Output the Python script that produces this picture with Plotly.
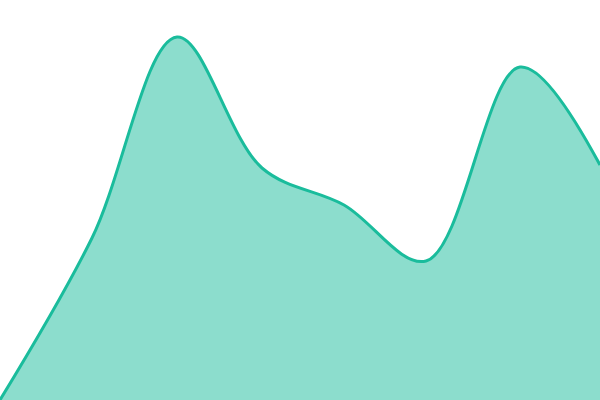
import plotly.graph_objects as go

# Data (pixel space 600x400)
x_values = [0, 92, 177, 262, 344, 426, 520, 600]
y_values = [0, 162, 363, 232, 195, 139, 333, 235]

fig = go.Figure()
fig.add_trace(go.Scatter(
    x=x_values,
    y=y_values,
    mode="lines",
    line=dict(shape="spline", smoothing=1.0, color="#1abc9c", width=3),
    fill="tozeroy",
    fillcolor="rgba(26,188,156,0.5)",
    hoverinfo="skip",
))

fig.update_layout(
    width=600,
    height=400,
    margin=dict(l=0, r=0, t=0, b=0),
    paper_bgcolor="white",
    plot_bgcolor="white",
    showlegend=False,
    xaxis=dict(visible=False, range=[0, 600], fixedrange=True),
    yaxis=dict(visible=False, range=[0, 400], fixedrange=True),
)

# body margin would shift the chart by 8px
fig.write_html(
    "out.html",
    config={"displayModeBar": False},
    post_script="document.body.style.margin='0';document.body.style.overflow='hidden';",
)
